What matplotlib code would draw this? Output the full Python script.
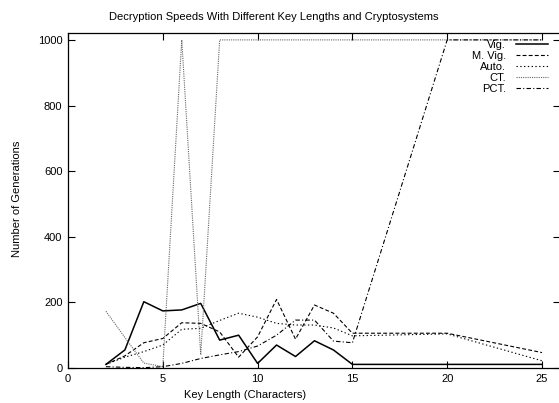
import numpy as np
import matplotlib
matplotlib.use('Agg')
import matplotlib.pyplot as plt

plt.rcParams['font.family'] = ['Liberation Sans', 'DejaVu Sans']
plt.rcParams['font.size'] = 8

# key lengths tested
key_len = [2, 3, 4, 5, 6, 7, 8, 9, 10, 11, 12, 13, 14, 15, 20, 25]

vig = [11, 55, 202, 174, 177, 197, 85, 100, 14, 70, 35, 83, 55, 11, 11, 11]
mvig = [11, 37, 77, 90, 138, 136, 110, 33, 95, 209, 88, 192, 167, 106, 106, 47]
auto = [11, 33, 50, 70, 118, 121, 145, 167, 155, 136, 131, 131, 122, 98, 104, 22]
ct = [173, 93, 15, 4, 1000, 40, 1000, 1000, 1000, 1000, 1000, 1000, 1000, 1000, 1000, 1000]
pct = [4, 2, 1, 4, 14, 29, 40, 50, 67, 100, 146, 146, 82, 77, 1000, 1000]

labels = ['Vig.', 'M. Vig.', 'Auto.', 'CT.', 'PCT.']

fig = plt.figure(figsize=(5.59, 4.03), dpi=100, facecolor='w')
# plot area runs slightly past the right edge (cropped like the original)
ax = fig.add_axes([68/559, 1-368/403, (560-68)/559, (368-33)/403])

ax.plot(key_len, vig, color='k', lw=1.1, ls='-', label=labels[0])
ax.plot(key_len, mvig, color='k', lw=0.8, ls=(0, (3.5, 2)), label=labels[1])
ax.plot(key_len, auto, color='k', lw=0.8, ls=(0, (1.2, 2.2)), label=labels[2])
ax.plot(key_len, ct, color='#666666', lw=0.8, ls=(0, (1, 1)), label=labels[3])
ax.plot(key_len, pct, color='k', lw=0.8, ls=(0, (4, 2, 1, 2)), label=labels[4])

ax.set_xlim(0, 25.95)
ax.set_ylim(0, 1021)
ax.set_xticks(np.arange(0, 26, 5))
ax.set_yticks(np.arange(0, 1001, 200))
ax.tick_params(direction='in', length=5, width=0.8, top=True, right=True, pad=4)
for s in ax.spines.values():
    s.set_linewidth(0.9)

fig.text(0.49, 1-17/403, 'Decryption Speeds With Different Key Lengths and Cryptosystems',
         ha='center', va='center')
fig.text(245/559, 1-395/403, 'Key Length (Characters)', ha='center', va='center')
fig.text(17/559, 1-199/403, 'Number of Generations', ha='center', va='center', rotation=90)

leg = ax.legend(loc='upper right', bbox_to_anchor=(0.9756, 0.978), frameon=False,
                markerfirst=False, handlelength=2.9, handletextpad=0.9,
                labelspacing=0.08, borderpad=0, borderaxespad=0)

fig.savefig('out.png', dpi=100)
